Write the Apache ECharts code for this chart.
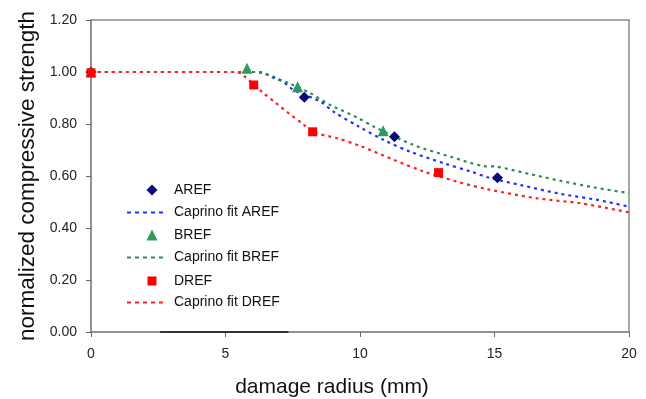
<!DOCTYPE html>
<html><head><meta charset="utf-8">
<script src="https://cdn.jsdelivr.net/npm/echarts@6/dist/echarts.min.js"></script>
<style>html,body{margin:0;padding:0;background:#fff}#c{width:646px;height:399px}</style>
</head><body><div id="c"></div>
<script>
// measured data points [radius mm, normalized strength]
var arefPts = [[0,1.0],[7.93,0.903],[11.28,0.751],[15.11,0.593]];
var brefPts = [[0,1.0],[5.8,1.014],[7.68,0.943],[10.86,0.774]];
var drefPts = [[0,0.997],[6.05,0.95],[8.24,0.77],[12.92,0.613]];
// Caprino fit curves
var fitA = [[0,1.0],[6.1,1.0],[7.04,0.969],[7.53,0.931],[8.53,0.886],[9.02,0.847],[9.96,0.79],[10.89,0.738],[11.88,0.693],[13.12,0.649],[14.12,0.617],[14.74,0.595],[15.98,0.565],[17.47,0.531],[18.83,0.508],[20,0.482]];
var fitB = [[0,1.0],[6.29,1.0],[6.79,0.976],[7.35,0.957],[8.16,0.918],[8.9,0.873],[9.9,0.825],[10.51,0.79],[12.0,0.719],[13.37,0.674],[14.61,0.638],[15.05,0.636],[16.29,0.608],[17.47,0.581],[18.71,0.556],[20,0.534]];
var fitD = [[0,1.0],[5.4,1.0],[5.67,0.986],[6.42,0.918],[6.85,0.883],[7.35,0.841],[7.85,0.803],[8.22,0.77],[9.15,0.745],[10.02,0.715],[11.26,0.662],[12.38,0.617],[13.62,0.578],[14.74,0.549],[16.6,0.514],[18.21,0.495],[20,0.46]];
var xTicks = [0,5,10,15,20];
var yTicks = ['0.00','0.20','0.40','0.60','0.80','1.00','1.20'];
var axisSeg = [[2.57,0],[7.34,0]];
var legendNames = ['AREF','Caprino fit AREF','BREF','Caprino fit BREF','DREF','Caprino fit DREF'];
var legendIcons = ['diamond', null, 'triangle', null, 'rect', null];

var chart = echarts.init(document.getElementById('c'));
var F = 'Liberation Sans, Arial, sans-serif';
var dash = [3,4];
var dashIcon = 'path://M0,0h4v2h-4zM8,0h4v2h-4zM16,0h4v2h-4zM24,0h4v2h-4zM32,0h4v2h-4z';
var legendTops = [183, 205.5, 228, 250.5, 273, 295.5];
var legends = legendNames.map(function(n, i){
  var isLine = !legendIcons[i];
  var sz = legendIcons[i] === 'rect' ? 9 : 11;
  return {orient:'vertical', padding:0, left: isLine ? 127 : 152 - sz/2, top: legendTops[i] + (isLine ? 0 : (11 - sz)/2),
    itemWidth: isLine ? 36 : sz, itemHeight: isLine ? 10 : sz, selectedMode:false,
    textStyle:{fontFamily:F,fontSize:14,color:'#111',padding: isLine ? [0,0,0,6] : [0,0,0,174 - (152 + sz/2) - 5]},
    data:[{name:n, icon: isLine ? dashIcon : legendIcons[i]}]};
});
chart.setOption({
  animation:false,
  grid:{left:91,right:17,top:20,bottom:67,show:true,borderColor:'#8a8a8a',borderWidth:1.5,outerBoundsMode:'none',containLabel:false},
  legend:legends,
  xAxis:{type:'value',min:0,max:20,interval:5,
    name:'damage radius (mm)',nameLocation:'middle',nameGap:45,
    nameTextStyle:{fontFamily:F,fontSize:21,color:'#111',padding:[0,56,0,0]},
    axisLine:{lineStyle:{color:'#8a8a8a',width:1.5}},
    axisTick:{show:true,length:5,lineStyle:{color:'#666'}},
    axisLabel:{fontFamily:F,fontSize:14,color:'#222',margin:15,formatter:function(v){return xTicks.indexOf(v)>=0?String(v):'';}},
    splitLine:{show:false}},
  yAxis:{type:'value',min:0,max:1.2,interval:0.2,
    name:'normalized compressive strength',nameLocation:'middle',nameGap:48,
    nameTextStyle:{fontFamily:F,fontSize:22.5,color:'#111'},
    axisLine:{show:true,lineStyle:{color:'#8a8a8a',width:1.5}},
    axisTick:{show:true,length:5,lineStyle:{color:'#666'}},
    axisLabel:{fontFamily:F,fontSize:14,color:'#222',margin:14,formatter:function(v){return yTicks[Math.round(v/0.2)];}},
    splitLine:{show:false}},
  series:[
    {name:'axisseg',type:'line',data:axisSeg,symbol:'none',lineStyle:{color:'#333',width:2},silent:true,z:1},
    {name:'Caprino fit AREF',type:'line',data:fitA,symbol:'none',smooth:0.3,lineStyle:{color:'#1f2fff',width:2.2,type:dash},itemStyle:{color:'#1f2fff'}},
    {name:'Caprino fit BREF',type:'line',data:fitB,symbol:'none',smooth:0.3,lineStyle:{color:'#2e8b57',width:2.2,type:dash},itemStyle:{color:'#2e8b57'}},
    {name:'Caprino fit DREF',type:'line',data:fitD,symbol:'none',smooth:0.3,lineStyle:{color:'#ff2020',width:2.2,type:dash},itemStyle:{color:'#ff2020'}},
    {name:'AREF',type:'scatter',data:arefPts,symbol:'diamond',symbolSize:11,itemStyle:{color:'#0a0a78',opacity:1},z:5},
    {name:'BREF',type:'scatter',data:brefPts,symbol:'triangle',symbolSize:11,itemStyle:{color:'#2e9a62',opacity:1},z:6},
    {name:'DREF',type:'scatter',data:drefPts,symbol:'rect',symbolSize:9,itemStyle:{color:'#ff0000',opacity:1},z:7}
  ]
});
</script></body></html>
